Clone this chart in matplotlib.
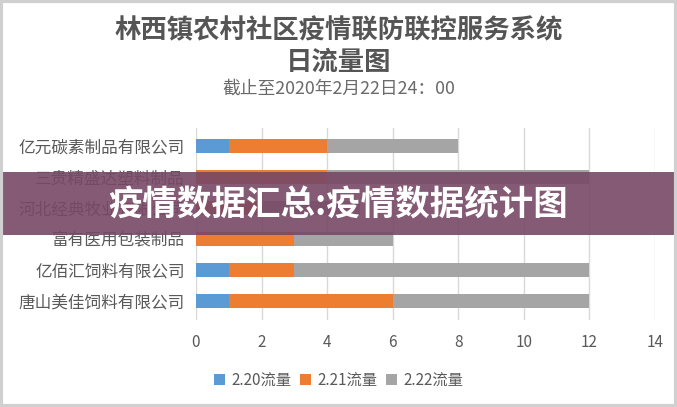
import matplotlib
matplotlib.use('Agg')
import matplotlib.pyplot as plt
from matplotlib.patches import Rectangle
import numpy as np

plt.rcParams['font.family'] = ['Noto Sans CJK SC', 'DejaVu Sans']

companies = ['亿元碳素制品有限公司', '三贵精盛达塑料制品', '河北经典牧业有限公司',
             '富有医用包装制品', '亿佰汇饲料有限公司', '唐山美佳饲料有限公司']
flow_220 = [1, 0, 0, 0, 1, 1]
flow_221 = [3, 4, 2, 3, 2, 5]
flow_222 = [4, 8, 3, 3, 9, 6]
series_names = ['2.20流量', '2.21流量', '2.22流量']
colors = ['#5B9BD5', '#ED7D31', '#A5A5A5']

fig = plt.figure(figsize=(6.77, 4.07), dpi=100)
ax = fig.add_axes([0.2895, 0.214, 0.678, 0.472])

y = np.arange(len(companies))[::-1]
left = np.zeros(len(companies))
for vals, name, c in zip([flow_220, flow_221, flow_222], series_names, colors):
    ax.barh(y, vals, left=left, height=0.45, color=c, label=name, zorder=3)
    left += np.array(vals)

ax.set_xlim(0, 14)
ax.set_ylim(-0.6, len(companies) - 0.4)
ax.set_xticks(range(0, 15, 2))
ax.set_yticks(y)
ax.set_yticklabels(companies, fontsize=12, color='#595959')
ax.tick_params(axis='x', labelsize=11, labelcolor='#595959', length=0, pad=10)
ax.tick_params(axis='y', length=0, pad=8)
ax.grid(axis='x', color='#D9D9D9', linewidth=1, zorder=0)
for s in ax.spines.values():
    s.set_visible(False)

fig.text(0.5, 0.925, '林西镇农村社区疫情联防联控服务系统', ha='center', va='center',
         fontsize=19, fontweight='bold', color='#555555')
fig.text(0.5, 0.848, '日流量图', ha='center', va='center', fontsize=19,
         fontweight='bold', color='#555555')
fig.text(0.5, 0.782, '截止至2020年2月22日24：00', ha='center', va='center',
         fontsize=12.8, color='#6a6a6a')

fig.legend(loc='center', bbox_to_anchor=(0.5, 0.066), ncol=3, frameon=False,
           fontsize=11, handlelength=0.7, handleheight=0.7, handletextpad=0.4,
           columnspacing=0.6, labelcolor='#595959')

# banner overlay
fig.patches.append(Rectangle((0, 0.4226), 1, 0.1548, transform=fig.transFigure,
                             facecolor='#774866', alpha=0.9, zorder=10))
fig.text(0.5, 0.497, '疫情数据汇总:疫情数据统计图', ha='center', va='center',
         fontsize=24.8, fontweight='bold', color='white', zorder=11)

# light frame
fig.patches.append(Rectangle((0.002, 0.003), 0.996, 0.994, transform=fig.transFigure,
                             fill=False, edgecolor='#D0D0D0', linewidth=3, zorder=12))

fig.savefig('out.png', dpi=100)
